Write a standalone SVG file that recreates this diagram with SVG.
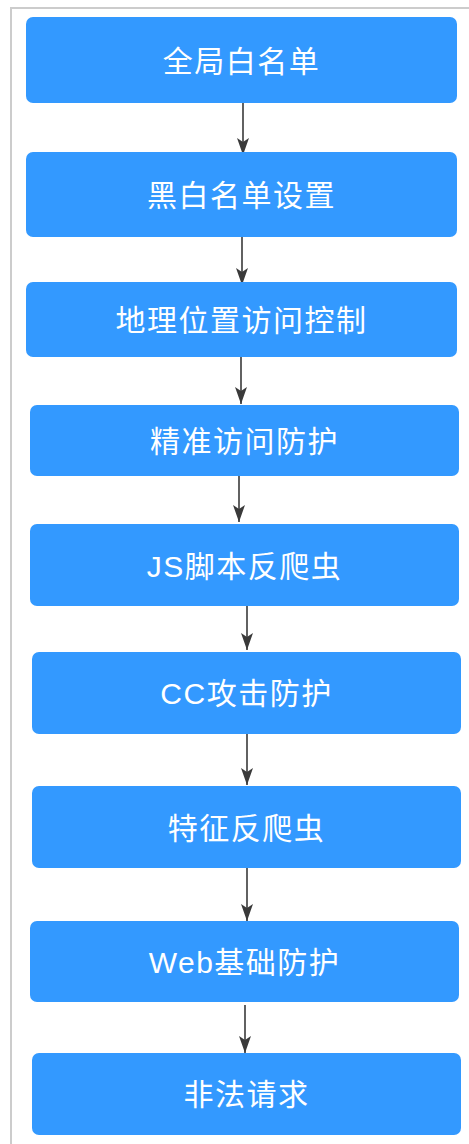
<svg xmlns="http://www.w3.org/2000/svg" width="469" height="1144" viewBox="0 0 469 1144">
<style>
.box{fill:#3399ff;}
.lbl{fill:#ffffff;font-family:"Liberation Sans","Noto Sans CJK SC",sans-serif;font-size:30px;text-anchor:middle;dominant-baseline:central;letter-spacing:1.5px;}
.con{stroke:#3a3a3a;stroke-width:1.6;fill:none;marker-end:url(#ah);}
.frame{stroke:#cccccc;stroke-width:2;fill:none;}
</style>
<defs>
<marker id="ah" markerWidth="18" markerHeight="13" refX="17" refY="6.5" orient="auto" markerUnits="userSpaceOnUse" viewBox="0 0 18 13">
<path d="M0,0.5 L17,6.5 L0,12.5 L4,6.5 Z" fill="#3a3a3a"/>
</marker>
</defs>
<rect width="469" height="1144" fill="#ffffff"/>
<path class="frame" d="M11,1144 V8 H469"/>
<g id="connectors">
<line class="con" x1="243" y1="103" x2="243" y2="155"/>
<line class="con" x1="242" y1="237" x2="242" y2="285"/>
<line class="con" x1="241" y1="357" x2="241" y2="404"/>
<line class="con" x1="239" y1="476" x2="239" y2="522"/>
<line class="con" x1="247" y1="606" x2="247" y2="650"/>
<line class="con" x1="247" y1="734" x2="247" y2="785"/>
<line class="con" x1="247" y1="868" x2="247" y2="921"/>
<line class="con" x1="245" y1="1005" x2="245" y2="1053"/>
</g>
<g id="n1"><rect class="box" x="26" y="17" width="431" height="86" rx="7"/><text class="lbl" x="241.5" y="61">全局白名单</text></g>
<g id="n2"><rect class="box" x="26" y="152" width="431" height="85" rx="7"/><text class="lbl" x="241.5" y="195">黑白名单设置</text></g>
<g id="n3"><rect class="box" x="26" y="282" width="431" height="75" rx="7"/><text class="lbl" x="241.5" y="320">地理位置访问控制</text></g>
<g id="n4"><rect class="box" x="30" y="405" width="429" height="71" rx="7"/><text class="lbl" x="244.5" y="441">精准访问防护</text></g>
<g id="n5"><rect class="box" x="30" y="524" width="429" height="82" rx="7"/><text class="lbl" x="244.5" y="566">JS脚本反爬虫</text></g>
<g id="n6"><rect class="box" x="32" y="652" width="429" height="82" rx="7"/><text class="lbl" x="246.5" y="693">CC攻击防护</text></g>
<g id="n7"><rect class="box" x="32" y="786" width="429" height="82" rx="7"/><text class="lbl" x="246.5" y="828">特征反爬虫</text></g>
<g id="n8"><rect class="box" x="30" y="921" width="429" height="81" rx="7"/><text class="lbl" x="244.5" y="962">Web基础防护</text></g>
<g id="n9"><rect class="box" x="32" y="1053" width="429" height="82" rx="7"/><text class="lbl" x="246.5" y="1094">非法请求</text></g>
</svg>
